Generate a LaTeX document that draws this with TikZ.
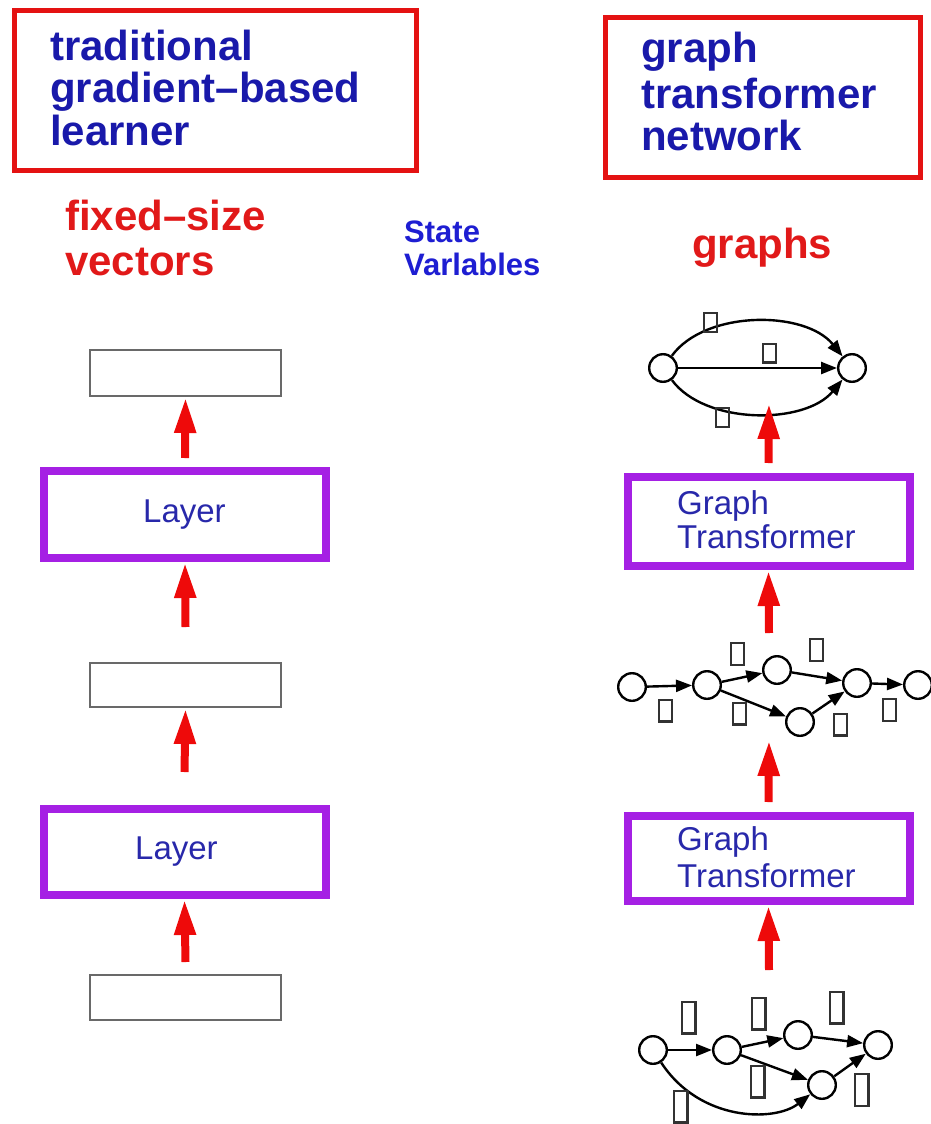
\documentclass[tikz,border=0pt]{standalone}
\usepackage{fontspec}
\setmainfont{Liberation Sans}
\usetikzlibrary{arrows.meta}
\definecolor{tblue}{RGB}{25,25,170}
\definecolor{sblue}{RGB}{30,30,210}
\definecolor{lblue}{RGB}{40,40,170}
\definecolor{boxred}{RGB}{228,18,18}
\definecolor{tred}{RGB}{225,25,25}
\definecolor{ared}{RGB}{238,10,10}
\definecolor{vpurple}{RGB}{165,32,228}
\definecolor{vgray}{RGB}{105,105,105}
\definecolor{lgray}{RGB}{50,50,50}
\begin{document}
\begin{tikzpicture}[x=1pt,y=-1pt,
  redbox/.style={draw=boxred,line width=5pt,inner sep=0pt},
  purplebox/.style={draw=vpurple,line width=8pt,inner sep=0pt,minimum width=282pt},
  vecbox/.style={draw=vgray,line width=2pt,inner sep=0pt,minimum width=191pt},
  flow/.style={draw=ared,line width=8pt,-{Triangle[length=36pt,width=20pt]}},
  gnode/.style={circle,draw=black,line width=2.4pt,fill=white,minimum size=27.6pt,inner sep=0pt},
  gedge/.style={draw=black,line width=2.4pt,-{Triangle[length=16pt,width=12pt]}},
  lblA/.style={draw=lgray,line width=2.4pt,inner sep=0pt,minimum width=12.6pt,minimum height=18.6pt},
  lblB/.style={draw=lgray,line width=2.4pt,inner sep=0pt,minimum width=12.6pt,minimum height=21.6pt},
  lblC/.style={draw=lgray,line width=2.4pt,inner sep=0pt,minimum width=13.6pt,minimum height=31.6pt},
  title/.style={inner sep=0pt,anchor=base west,text=tblue,font=\fontsize{42}{44}\selectfont\bfseries},
  rtitle/.style={inner sep=0pt,anchor=base west,text=tred,font=\fontsize{42}{44}\selectfont\bfseries},
  stitle/.style={inner sep=0pt,anchor=base west,text=sblue,font=\fontsize{31}{33}\selectfont\bfseries},
  ltext/.style={inner sep=0pt,anchor=base west,text=lblue,font=\fontsize{33}{35}\selectfont}
]
\useasboundingbox (0,0) rectangle (931,1124);

% title boxes
\node[redbox,minimum width=402pt,minimum height=160pt] (tradbox) at (215.5,90.5) {};
\node[redbox,minimum width=315pt,minimum height=160pt] (gtnbox) at (763,97.5) {};
\node[title] (t1) at (50,60) {traditional};
\node[title] (t2) at (50,102) {gradient--based};
\node[title] (t3) at (50,145) {learner};
\node[title] (g1) at (641,63) {graph};
\node[title] (g2) at (641,108) {transformer};
\node[title] (g3) at (641,150) {network};

% headings
\node[rtitle] (fs1) at (65,230) {fixed--size};
\node[rtitle] (fs2) at (65,275) {vectors};
\node[stitle] (sv1) at (404,242) {State};
\node[stitle] (sv2) at (404,275) {Varlables};
\node[rtitle] (gr) at (692,258) {graphs};

% left column
\node[vecbox,minimum height=46pt] (vec1) at (185.5,373) {};
\node[purplebox,minimum height=87pt] (layer1) at (185,514.5) {};
\node[vecbox,minimum height=44pt] (vec2) at (185.5,685) {};
\node[purplebox,minimum height=86pt] (layer2) at (184.5,852) {};
\node[vecbox,minimum height=45pt] (vec3) at (185.5,997.5) {};
\node[ltext] (l1t) at (143,522) {Layer};
\node[ltext] (l2t) at (135,859) {Layer};

\draw[flow] ([yshift=9pt]layer1.north) -- (vec1.south);
\draw[flow] ([yshift=35pt]vec2.north) -- (layer1.south);
\draw[flow] ([yshift=33pt]layer2.north) -- (vec2.south);
\draw[flow] ([yshift=12pt]vec3.north) -- (layer2.south);

% right column boxes
\node[purplebox,minimum height=89pt] (gt1) at (768.5,521.5) {};
\node[purplebox,minimum height=85pt] (gt2) at (768.5,858.5) {};
\node[ltext] (gt1a) at (677,514) {Graph};
\node[ltext] (gt1b) at (677,548) {Transformer};
\node[ltext] (gt2a) at (677,850) {Graph};
\node[ltext] (gt2b) at (677,887) {Transformer};

% top graph
\node[gnode] (ta) at (663,368) {};
\node[gnode] (tb) at (852,368) {};
\draw[gedge] (ta) .. controls (705,310) and (805,310) .. (tb);
\draw[gedge] (ta) -- (tb);
\draw[gedge] (ta) .. controls (705,425) and (805,425) .. (tb);
\node[lblA] (tl1) at (710.5,322.5) {};
\node[lblA] (tl2) at (769.5,353) {};
\node[lblA] (tl3) at (722.5,417.5) {};

% middle graph
\node[gnode] (ma) at (632,687) {};
\node[gnode] (mb) at (707,685) {};
\node[gnode] (mc) at (777,670) {};
\node[gnode] (md) at (857,683) {};
\node[gnode] (me) at (918,685) {};
\node[gnode] (mf) at (800,722) {};
\draw[gedge] (ma) -- (mb);
\draw[gedge] (mb) -- (mc);
\draw[gedge] (mb) -- (mf);
\draw[gedge] (mc) -- (md);
\draw[gedge] (mf) -- (md);
\draw[gedge] (md) -- (me);
\node[lblB] (ml1) at (665.5,710.5) {};
\node[lblB] (ml2) at (737.5,654) {};
\node[lblB] (ml3) at (816.5,650) {};
\node[lblB] (ml4) at (739.5,713.5) {};
\node[lblB] (ml5) at (840.5,724.5) {};
\node[lblB] (ml6) at (889.5,710) {};

% bottom graph
\node[gnode] (ba) at (653,1050) {};
\node[gnode] (bb) at (727,1050) {};
\node[gnode] (bc) at (798,1035) {};
\node[gnode] (bd) at (878,1045) {};
\node[gnode] (bf) at (822,1085) {};
\draw[gedge] (ba) -- (bb);
\draw[gedge] (bb) -- (bc);
\draw[gedge] (bb) -- (bf);
\draw[gedge] (bc) -- (bd);
\draw[gedge] (bf) -- (bd);
\draw[gedge] (ba) .. controls (700,1122) and (775,1122) .. (bf);
\node[lblC] (bl1) at (688.5,1017.5) {};
\node[lblC] (bl2) at (758.5,1013.5) {};
\node[lblC] (bl3) at (836.5,1007.5) {};
\node[lblC] (bl4) at (757.5,1081.5) {};
\node[lblC] (bl5) at (861.5,1090) {};
\node[lblC] (bl6) at (680.5,1106.5) {};

% red arrows right column
\coordinate (topin) at (769,403);
\coordinate (midout) at (769,633);
\coordinate (midin) at (769,740);
\coordinate (botout) at (769,970);
\draw[flow] ([yshift=10pt]gt1.north) -- (topin);
\draw[flow] (midout) -- (gt1.south);
\draw[flow] ([yshift=10pt]gt2.north) -- (midin);
\draw[flow] (botout) -- (gt2.south);
\end{tikzpicture}
\end{document}
